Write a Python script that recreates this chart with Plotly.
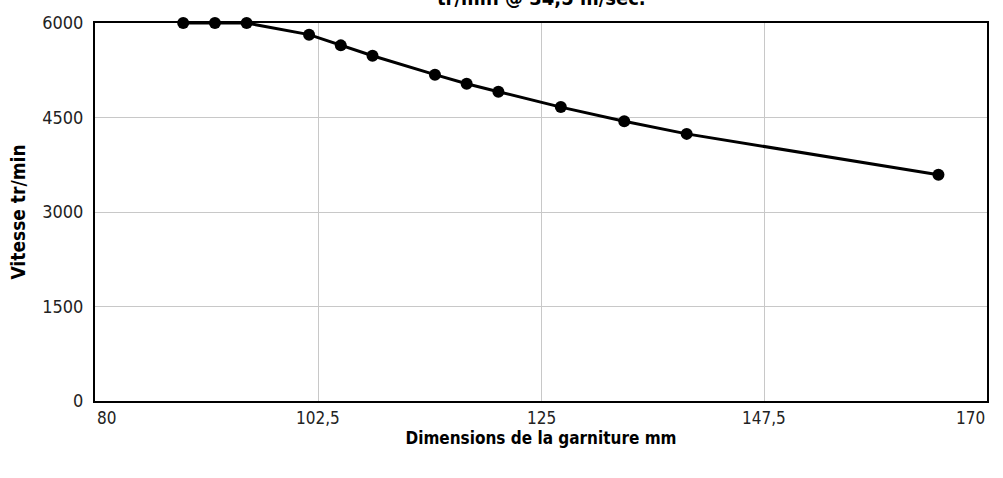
import plotly.graph_objects as go

diam_mm = [88.9, 92.1, 95.3, 101.6, 104.8, 108.0, 114.3, 117.5, 120.7, 127.0, 133.4, 139.7, 165.1]
vitesse = [6000, 6000, 6000, 5815, 5645, 5480, 5180, 5035, 4910, 4665, 4440, 4240, 3590]

x_ticks = [80, 102.5, 125, 147.5, 170]
x_tick_labels = ["80", "102,5", "125", "147,5", "170"]
y_ticks = [0, 1500, 3000, 4500, 6000]

title_text = "tr/min @ 34,5 m/sec."
x_title = "Dimensions de la garniture mm"
y_title = "Vitesse tr/min"

FONT = "DejaVu Sans Condensed"

fig = go.Figure()
fig.add_trace(go.Scatter(
    x=diam_mm, y=vitesse, mode="lines+markers",
    line=dict(color="black", width=3),
    marker=dict(color="black", size=12),
    cliponaxis=False, showlegend=False,
))

anns = []
for v, t in zip(x_ticks, x_tick_labels):
    anchor = "left" if v == x_ticks[0] else ("right" if v == x_ticks[-1] else "center")
    anns.append(dict(x=v, y=0, xref="x", yref="y", text=t, showarrow=False,
                     xanchor=anchor, yanchor="top", yshift=-5,
                     font=dict(family=FONT, size=17, color="#222")))
anns.append(dict(x=0.5, y=1, xref="paper", yref="paper", text="<b>" + title_text + "</b>",
                 showarrow=False, xanchor="center", yanchor="bottom", yshift=11,
                 font=dict(family=FONT, size=20, color="black")))

fig.update_layout(
    width=1003, height=478,
    margin=dict(l=95, r=16, t=21, b=77),
    plot_bgcolor="white", paper_bgcolor="white",
    font=dict(family=FONT, color="#222"),
    annotations=anns,
    xaxis=dict(range=[80, 170], tickvals=x_ticks, showticklabels=False,
               showgrid=True, gridcolor="#c8c8c8", gridwidth=1,
               showline=True, linecolor="black", linewidth=2, mirror=True,
               zeroline=False, ticks="",
               title=dict(text="<b>" + x_title + "</b>", standoff=30,
                          font=dict(family=FONT, size=17, color="black"))),
    yaxis=dict(range=[0, 6000], tickvals=y_ticks,
               showgrid=True, gridcolor="#c8c8c8", gridwidth=1,
               showline=True, linecolor="black", linewidth=2, mirror=True,
               zeroline=False, ticks="", ticklabelstandoff=6,
               tickfont=dict(family=FONT, size=18, color="#222"),
               title=dict(text="<b>" + y_title + "</b>", standoff=12,
                          font=dict(family=FONT, size=19, color="black"))),
)

fig.write_html("out.html", config={"displayModeBar": False},
               post_script="document.body.style.margin='0';")
